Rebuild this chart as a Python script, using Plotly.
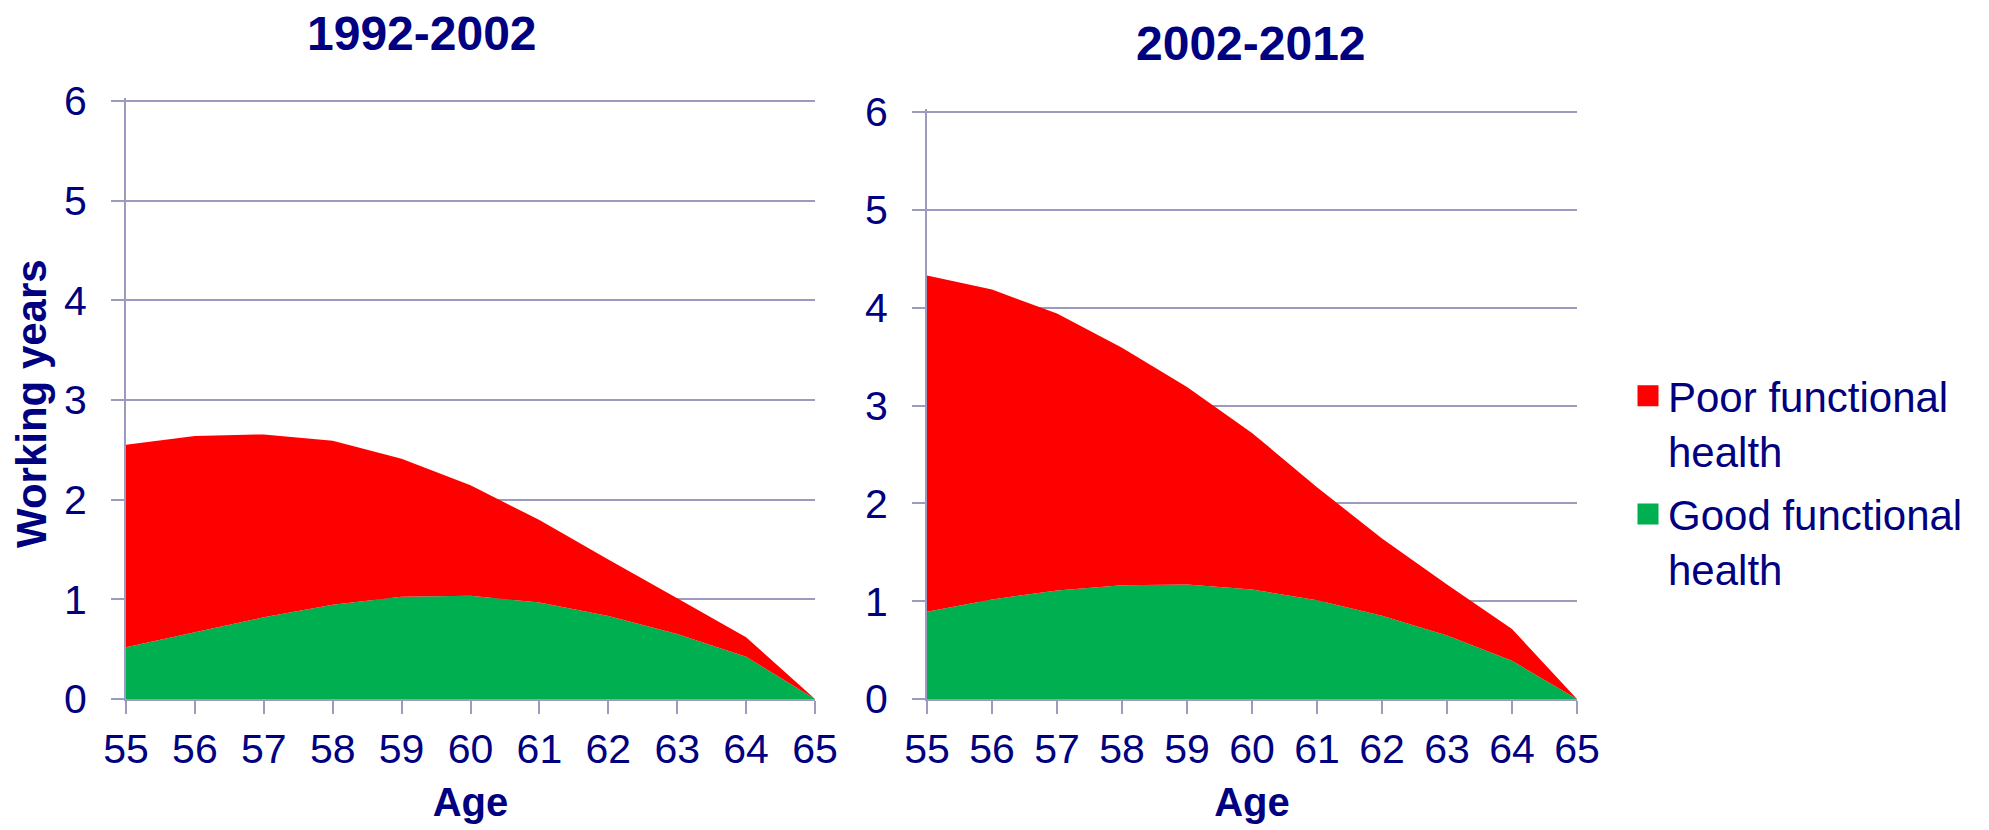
import plotly.graph_objects as go

ages = [55, 56, 57, 58, 59, 60, 61, 62, 63, 64, 65]
age_ticks = [str(a) for a in ages]
y_ticks = [0, 1, 2, 3, 4, 5, 6]

# 1992-2002
good_1992 = [0.52, 0.67, 0.82, 0.945, 1.025, 1.035, 0.967, 0.834, 0.653, 0.425, 0.0]
poor_1992 = [2.03, 1.97, 1.835, 1.645, 1.385, 1.11, 0.828, 0.566, 0.357, 0.195, 0.0]

# 2002-2012
good_2002 = [0.893, 1.018, 1.11, 1.164, 1.17, 1.12, 1.01, 0.85, 0.65, 0.39, 0.0]
poor_2002 = [3.437, 3.167, 2.83, 2.426, 2.02, 1.60, 1.155, 0.79, 0.52, 0.325, 0.0]

titles = ["1992-2002", "2002-2012"]
series_names = ["Poor functional<br>health", "Good functional<br>health"]

RED = "#FF0000"
GREEN = "#00B050"
NAVY = "#000080"
GRID = "#9B9BC0"
FONT = "Liberation Sans, Arial, sans-serif"

W, H = 1989, 830

fig = go.Figure()

for good, poor, xa, ya in [(good_1992, poor_1992, "x", "y"), (good_2002, poor_2002, "x2", "y2")]:
    fig.add_trace(go.Scatter(x=ages, y=good, stackgroup=xa, mode="none",
                             fillcolor=GREEN, line=dict(width=0),
                             xaxis=xa, yaxis=ya, showlegend=False,
                             hoverinfo="x+y"))
    fig.add_trace(go.Scatter(x=ages, y=poor, stackgroup=xa, mode="none",
                             fillcolor=RED, line=dict(width=0),
                             xaxis=xa, yaxis=ya, showlegend=False,
                             hoverinfo="x+y"))

# legend entries
for name, col in zip(series_names, [RED, GREEN]):
    fig.add_trace(go.Scatter(x=[None], y=[None], mode="markers", name=name,
                             legendgroup=name,
                             marker=dict(symbol="square", size=16, color=col,
                                         line=dict(color=col, width=5)),
                             xaxis="x2", yaxis="y2", showlegend=True))


def px_x(p):
    return p / W


def px_y(p):
    return 1 - p / H


YMAX = 6.03


def y_domain(top6_px, zero_px):
    per_unit = (zero_px - top6_px) / 6.0
    top_px = top6_px - (YMAX - 6.0) * per_unit
    return [px_y(zero_px), px_y(top_px)]


common_x = dict(range=[55, 65], tickmode="array", tickvals=ages, ticktext=age_ticks,
                showgrid=False, zeroline=False, showline=True, linecolor=GRID, linewidth=2,
                ticks="outside", ticklen=13, tickwidth=2, tickcolor=GRID,
                tickfont=dict(family=FONT, size=41, color=NAVY),
                ticklabelstandoff=0, fixedrange=True, automargin=False)
common_y = dict(range=[0, YMAX], tickmode="array", tickvals=y_ticks,
                showgrid=True, gridcolor=GRID, gridwidth=2,
                zeroline=False, showline=True, linecolor=GRID, linewidth=2,
                ticks="outside", ticklen=13, tickwidth=2, tickcolor=GRID,
                tickfont=dict(family=FONT, size=41, color=NAVY),
                ticklabelstandoff=16, fixedrange=True, automargin=False)

fig.update_layout(
    width=W, height=H,
    margin=dict(l=0, r=0, t=0, b=0, pad=0, autoexpand=False),
    paper_bgcolor="white", plot_bgcolor="white",
    font=dict(family=FONT, color=NAVY),
    xaxis=dict(domain=[px_x(126), px_x(815)], anchor="y",
               title=dict(text="<b>Age</b>", font=dict(family=FONT, size=40, color=NAVY), standoff=17),
               **common_x),
    yaxis=dict(domain=y_domain(101, 699), anchor="x", **common_y),
    xaxis2=dict(domain=[px_x(927), px_x(1577)], anchor="y2",
                title=dict(text="<b>Age</b>", font=dict(family=FONT, size=40, color=NAVY), standoff=17),
                **common_x),
    yaxis2=dict(domain=y_domain(112, 699), anchor="x2", **common_y),
    showlegend=True,
    legend=dict(x=px_x(1628), y=px_y(362), xanchor="left", yanchor="top",
                font=dict(family=FONT, size=42, color=NAVY),
                traceorder="grouped",
                valign="top", itemsizing="trace", tracegroupgap=6,
                bgcolor="rgba(0,0,0,0)"),
    annotations=[
        dict(text="<b>" + titles[0] + "</b>", x=px_x(422), y=px_y(33), xref="paper", yref="paper",
             xanchor="center", yanchor="middle", showarrow=False,
             font=dict(family=FONT, size=48, color=NAVY)),
        dict(text="<b>" + titles[1] + "</b>", x=px_x(1251), y=px_y(43), xref="paper", yref="paper",
             xanchor="center", yanchor="middle", showarrow=False,
             font=dict(family=FONT, size=48, color=NAVY)),
        dict(text="<b>Working years</b>", x=px_x(32), y=px_y(404), xref="paper", yref="paper",
             xanchor="center", yanchor="middle", showarrow=False, textangle=-90,
             font=dict(family=FONT, size=42, color=NAVY)),
    ],
)

fig.write_html("out.html")
